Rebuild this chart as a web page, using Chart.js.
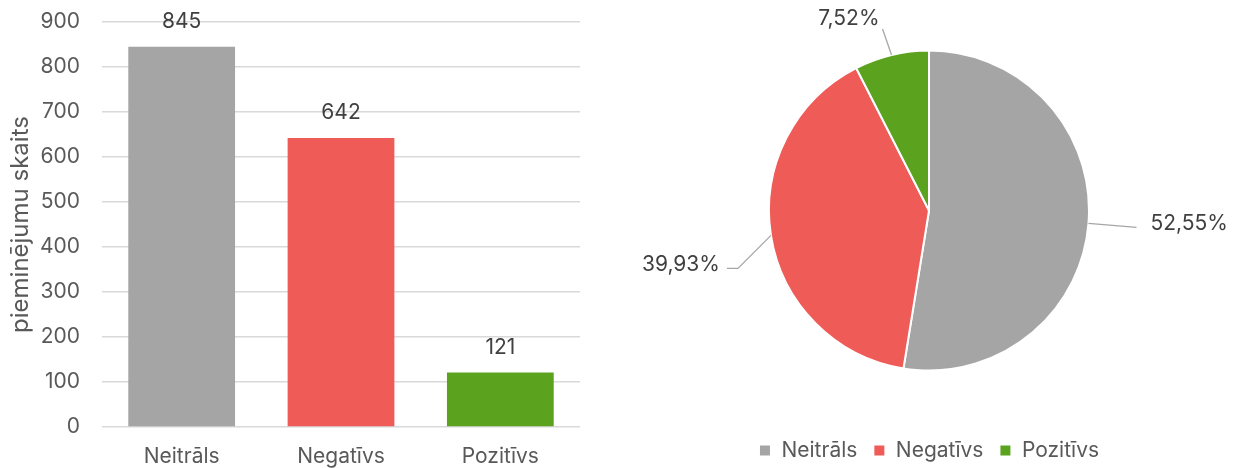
<!DOCTYPE html>
<html>
<head>
<meta charset="utf-8">
<script src="https://cdn.jsdelivr.net/npm/chart.js@4.4.1/dist/chart.umd.min.js"></script>
<style>
  html, body { margin: 0; padding: 0; background: #fff; }
  #wrap { position: relative; width: 1241px; height: 468px; overflow: hidden; }
  #barBox { position: absolute; left: 0; top: 0; width: 600px; height: 468px; }
  #pieBox { position: absolute; left: 600px; top: -3px; width: 641px; height: 474px; }
</style>
</head>
<body>
<div id="wrap">
  <div id="barBox"><canvas id="bar" width="600" height="468"></canvas></div>
  <div id="pieBox"><canvas id="pie" width="641" height="474"></canvas></div>
</div>
<script>
const categories = ["Neitrāls", "Negatīvs", "Pozitīvs"];
const counts = [845, 642, 121];
const shares = [52.55, 39.93, 7.52];
const yMax = 900;
const yStep = 100;
const yTitle = "pieminējumu skaits";

const colors = ["#A5A5A5", "#EF5B57", "#5BA31E"];
const FONT = "Inter, 'Open Sans', sans-serif";
const FS = 21;

// value labels above the bars
const barLabels = {
  id: "barLabels",
  afterDatasetsDraw(chart) {
    const ctx = chart.ctx;
    const meta = chart.getDatasetMeta(0);
    ctx.save();
    ctx.font = FS + "px " + FONT;
    ctx.fillStyle = "#404040";
    ctx.textAlign = "center";
    ctx.textBaseline = "middle";
    meta.data.forEach((bar, i) => {
      ctx.fillText(String(counts[i]), bar.x, bar.y - 25);
    });
    ctx.restore();
  }
};

// percentage labels with leader lines
const pieLabels = {
  id: "pieLabels",
  afterDatasetsDraw(chart, args, opts) {
    const ctx = chart.ctx;
    const meta = chart.getDatasetMeta(0);
    ctx.save();
    ctx.font = FS + "px " + FONT;
    ctx.fillStyle = "#404040";
    ctx.strokeStyle = "#A6A6A6";
    ctx.lineWidth = 1.3;
    ctx.textBaseline = "middle";
    meta.data.forEach((arc, i) => {
      const p = arc.getProps(["x", "y", "outerRadius", "startAngle", "endAngle"], true);
      const mid = (p.startAngle + p.endAngle) / 2;
      const x0 = p.x + Math.cos(mid) * p.outerRadius;
      const y0 = p.y + Math.sin(mid) * p.outerRadius;
      const l = opts.leaders[i];
      const x1 = x0 + l.dx, y1 = y0 + l.dy;
      const x2 = x1 + l.h;
      ctx.beginPath();
      ctx.moveTo(x0, y0);
      ctx.lineTo(x1, y1);
      ctx.lineTo(x2, y1);
      ctx.stroke();
      const right = Math.cos(mid) > 0;
      ctx.textAlign = right ? "left" : "right";
      const txt = shares[i].toFixed(2).replace(".", ",") + "%";
      ctx.fillText(txt, x2 + (right ? l.gap : -l.gap), y1 + l.ty);
    });
    ctx.restore();
  }
};

new Chart(document.getElementById("bar").getContext("2d"), {
  type: "bar",
  data: {
    labels: categories,
    datasets: [{
      data: counts,
      backgroundColor: colors,
      categoryPercentage: 0.67,
      barPercentage: 1
    }]
  },
  options: {
    responsive: false,
    animation: false,
    layout: { padding: { top: 22, right: 20, left: 0, bottom: 0 } },
    plugins: { legend: { display: false }, tooltip: { enabled: false } },
    scales: {
      x: {
        grid: { display: false },
        border: { display: false },
        ticks: { color: "#595959", font: { family: FONT, size: FS }, padding: 9 },
        afterFit(scale) { scale.height = 41; }
      },
      y: {
        min: 0,
        max: yMax,
        ticks: { stepSize: yStep, color: "#595959", font: { family: FONT, size: FS }, padding: 3 },
        grid: { color: "#D9D9D9", lineWidth: 1.5, drawTicks: true, tickLength: 19, tickColor: "rgba(0,0,0,0)" },
        border: { display: false },
        title: { display: true, text: yTitle, color: "#595959", font: { family: FONT, size: 24 }, padding: 6 },
        afterFit(scale) { scale.width = 102; }
      }
    }
  },
  plugins: [barLabels]
});

new Chart(document.getElementById("pie").getContext("2d"), {
  type: "pie",
  data: {
    labels: categories,
    datasets: [{
      data: shares,
      backgroundColor: colors,
      borderColor: "#FFFFFF",
      borderWidth: 2,
      radius: 160
    }]
  },
  options: {
    responsive: false,
    animation: false,
    layout: { padding: { top: 0, left: 17, right: 0, bottom: 0 } },
    plugins: {
      tooltip: { enabled: false },
      legend: {
        position: "bottom",
        labels: {
          color: "#595959",
          font: { family: FONT, size: FS },
          boxWidth: 12,
          boxHeight: 12,
          padding: 16
        }
      },
      pieLabels: {
        leaders: [
          { dx: 48, dy: 4, h: 0, gap: 14, ty: -4 },
          { dx: -33, dy: 33, h: -11, gap: 7, ty: -4 },
          { dx: -9, dy: -26, h: 0, gap: 3, ty: -10 }
        ]
      }
    }
  },
  plugins: [pieLabels]
});
</script>
</body>
</html>
